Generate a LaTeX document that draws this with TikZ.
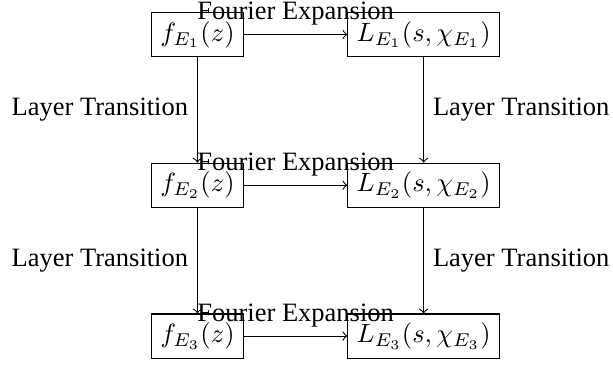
\documentclass[tikz,border=0pt]{standalone}
\usepackage{fontspec}
\setmainfont{Liberation Serif}
\usepackage{amsmath}
\usetikzlibrary{positioning}

\begin{document}
\begin{tikzpicture}[
    box/.style={draw, rectangle},
    trans/.style={->},
]
    \useasboundingbox (-74.5pt,13pt) rectangle (156.8pt,-125.1pt);
    \node[box] (f1) at (0, 0) {$f_{E_1}(z)$};
    \node[box] (L1) at (3, 0) {$L_{E_1}(s, \chi_{E_1})$};
    \node[box] (f2) at (0, -2) {$f_{E_2}(z)$};
    \node[box] (L2) at (3, -2) {$L_{E_2}(s, \chi_{E_2})$};
    \node[box] (f3) at (0, -4) {$f_{E_3}(z)$};
    \node[box] (L3) at (3, -4) {$L_{E_3}(s, \chi_{E_3})$};

    \draw[trans] (f1) -- node[above] {Fourier Expansion} (L1);
    \draw[trans] (f2) -- node[above] {Fourier Expansion} (L2);
    \draw[trans] (f3) -- node[above] {Fourier Expansion} (L3);

    \draw[trans] (f1) -- node[left] {Layer Transition} (f2);
    \draw[trans] (L1) -- node[right] {Layer Transition} (L2);
    \draw[trans] (f2) -- node[left] {Layer Transition} (f3);
    \draw[trans] (L2) -- node[right] {Layer Transition} (L3);
\end{tikzpicture}
\end{document}
